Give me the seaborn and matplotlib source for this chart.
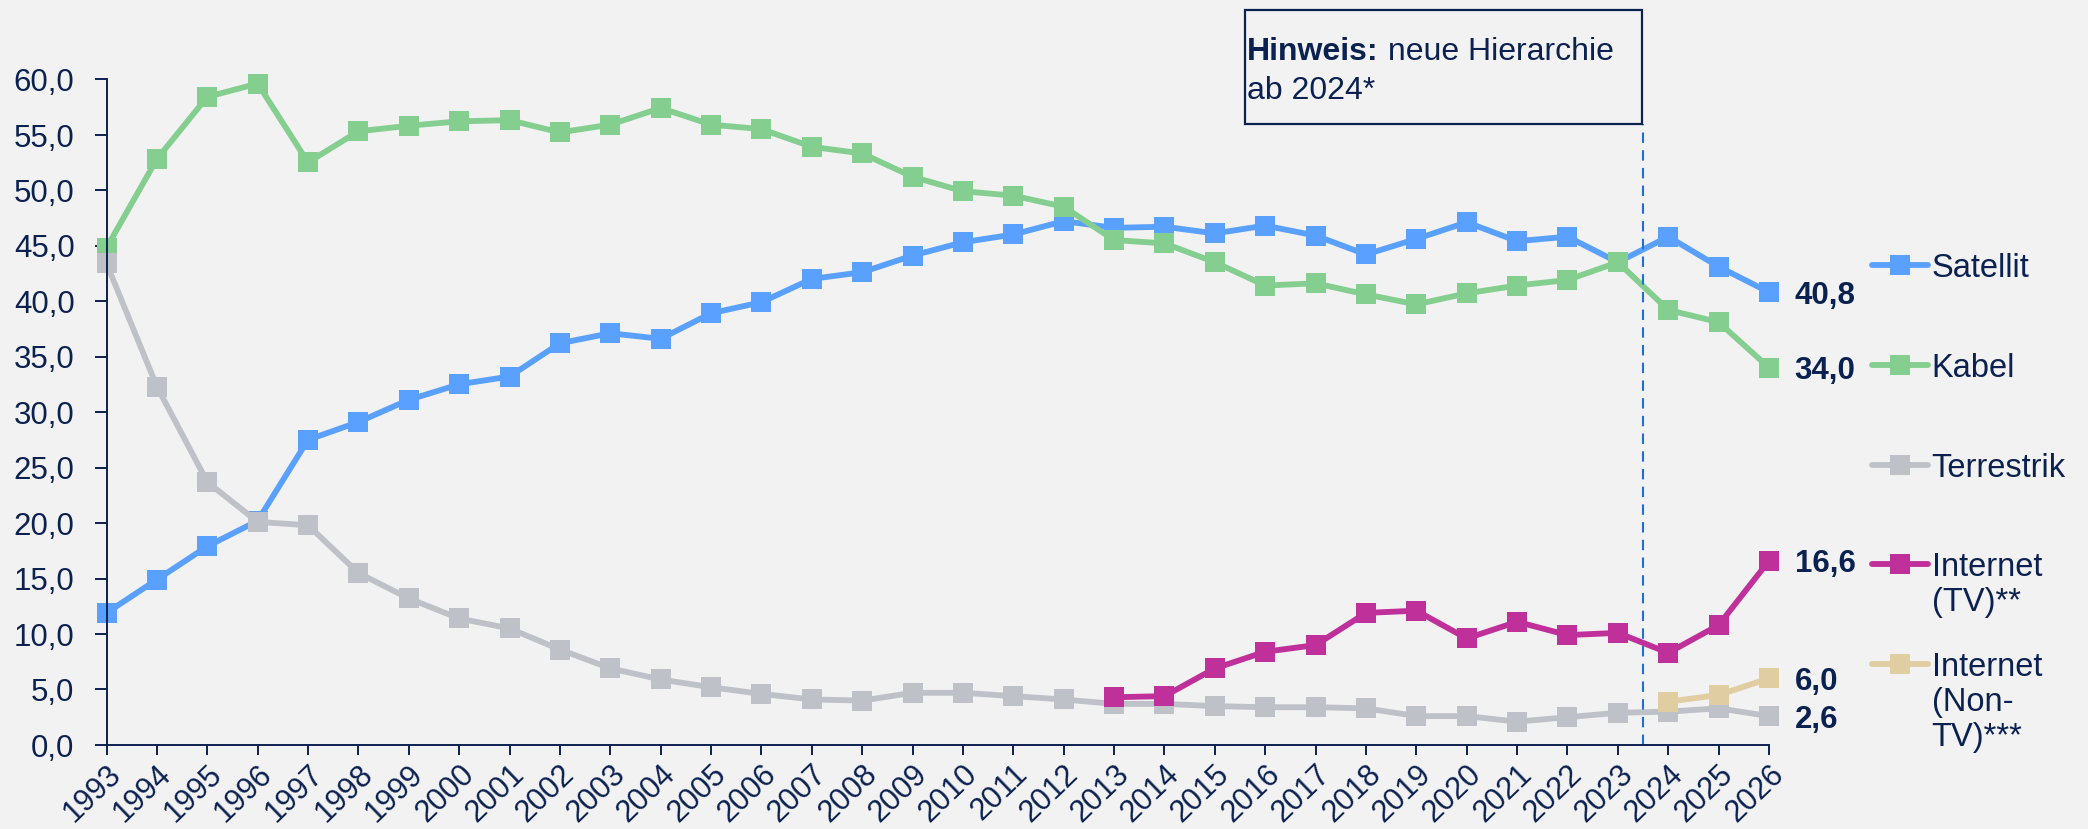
import numpy as np
import matplotlib
matplotlib.use("Agg")
import matplotlib.pyplot as plt
from matplotlib.lines import Line2D
from matplotlib.patches import Rectangle
import seaborn as sns

# data
years = list(range(1993, 2027))
satellit = [11.9, 14.9, 17.9, 20.2, 27.5, 29.1, 31.1, 32.5, 33.2, 36.2, 37.1, 36.6,
            38.9, 39.9, 42.0, 42.6, 44.1, 45.3, 46.0, 47.2, 46.6, 46.7, 46.1, 46.8,
            45.9, 44.2, 45.6, 47.1, 45.4, 45.8, 43.5, 45.8, 43.1, 40.8]
kabel = [44.8, 52.8, 58.4, 59.6, 52.5, 55.3, 55.8, 56.2, 56.3, 55.2, 55.9, 57.4,
         55.9, 55.5, 53.9, 53.3, 51.2, 49.9, 49.5, 48.5, 45.5, 45.2, 43.5, 41.4,
         41.6, 40.6, 39.7, 40.7, 41.4, 41.9, 43.5, 39.2, 38.1, 34.0]
terrestrik = [43.4, 32.3, 23.7, 20.1, 19.8, 15.5, 13.2, 11.4, 10.5, 8.6, 6.9, 5.9,
              5.2, 4.6, 4.1, 4.0, 4.7, 4.7, 4.4, 4.1, 3.7, 3.7, 3.5, 3.4,
              3.4, 3.3, 2.6, 2.6, 2.1, 2.5, 2.9, 3.0, 3.3, 2.6]
years_tv = list(range(2013, 2027))
internet_tv = [4.3, 4.4, 6.9, 8.4, 9.0, 11.9, 12.1, 9.6, 11.1, 9.9, 10.1, 8.3, 10.8, 16.6]
years_nontv = [2024, 2025, 2026]
internet_nontv = [3.9, 4.5, 6.0]

labels = ["Satellit", "Kabel", "Terrestrik", "Internet\n(TV)**", "Internet\n(Non-\nTV)***"]
colors = ["#5AA0FF", "#84CE8F", "#BEC2C8", "#C0309A", "#E0CDA2"]
yticks = np.arange(0, 61, 5)
split_year = 2023.5

navy = "#0B2150"
bg = "#F2F2F2"
W, H = 2088, 829
FS = 22.5

sns.set_style("white")
plt.rcParams["font.family"] = ["Liberation Sans", "DejaVu Sans"]
plt.rcParams["text.color"] = navy

fig = plt.figure(figsize=(W / 100, (H + 0.4) / 100), dpi=100, facecolor=bg)
ax = fig.add_axes([106.5 / W, 1 - 745 / H, (1769 - 106.5) / W, (745 - 79.5) / H])
ax.set_facecolor(bg)

series = [(years, satellit), (years, kabel), (years, terrestrik),
          (years_tv, internet_tv), (years_nontv, internet_nontv)]
for (xs, ys), c in zip(series, colors):
    sns.lineplot(x=xs, y=ys, ax=ax, color=c, linewidth=4.2, marker="s",
                 markersize=15, markeredgewidth=0, clip_on=False)

# value labels at the last point
for (xs, ys) in series:
    ax.annotate(f"{ys[-1]:.1f}".replace(".", ","), xy=(xs[-1], ys[-1]),
                xytext=(18.5, -8), textcoords="offset points", va="baseline",
                ha="left", fontsize=FS, fontweight="bold", color=navy)

ax.set_xlim(1993, 2026)
ax.set_ylim(0, 60)
ax.set_yticks(yticks)
ax.set_yticklabels([f"{v:.1f}".replace(".", ",") for v in yticks])
ax.set_xticks(years)
ax.set_xticklabels([str(y) for y in years], rotation=44, ha="right", va="top",
                   rotation_mode="anchor")
ax.tick_params(axis="y", direction="out", length=9, width=1.4, color=navy,
               labelsize=FS, labelcolor=navy, pad=14, left=True)
ax.tick_params(axis="x", direction="out", length=7, width=1.4, color=navy,
               labelsize=22, labelcolor=navy, pad=3, bottom=True)
for s in ["top", "right"]:
    ax.spines[s].set_visible(False)
for s in ["left", "bottom"]:
    ax.spines[s].set_color(navy)
    ax.spines[s].set_linewidth(1.4)
ax.set_xlabel("")
ax.set_ylabel("")
ax.grid(False)

# dashed divider and note box
ax.vlines(split_year, 0, 56, colors="#1F6FD6", linestyles=(0, (5, 3.5)),
          linewidth=1.5, clip_on=False)
fig.add_artist(Rectangle((1245 / W, 1 - 124.3 / H), (1641.7 - 1245) / W, (124.3 - 10) / H,
                         transform=fig.transFigure, fill=False, edgecolor=navy, linewidth=1.6))
t1 = fig.text(1247 / W, 1 - 60 / H, "Hinweis:", fontsize=FS + 0.5, fontweight="bold",
              va="baseline", ha="left", color=navy)
ax.annotate(" neue Hierarchie", xy=(1, 0), xycoords=t1, va="bottom", ha="left",
            fontsize=FS + 0.5, color=navy, annotation_clip=False)
fig.text(1247 / W, 1 - 99.3 / H, "ab 2024*", fontsize=FS + 0.5, va="baseline",
         ha="left", color=navy)

# legend drawn by hand so the marker sits on the first text line
handle_y = [265.7, 365.7, 465.3, 564.3, 664.3]
for lab, c, hy in zip(labels, colors, handle_y):
    yf = 1 - hy / H
    fig.add_artist(Line2D([1871.7 / W, 1928.3 / W], [yf, yf], transform=fig.transFigure,
                          color=c, linewidth=4.2, solid_capstyle="round"))
    fig.add_artist(Line2D([1900 / W], [yf], transform=fig.transFigure, color=c,
                          marker="s", markersize=15, markeredgewidth=0))
    for i, line in enumerate(lab.split("\n")):
        fig.text(1931.7 / W, 1 - (hy + 11 + 35 * i) / H, line, fontsize=FS + 1,
                 va="baseline", ha="left", color=navy)

fig.savefig("out.png", dpi=100, facecolor=bg)
